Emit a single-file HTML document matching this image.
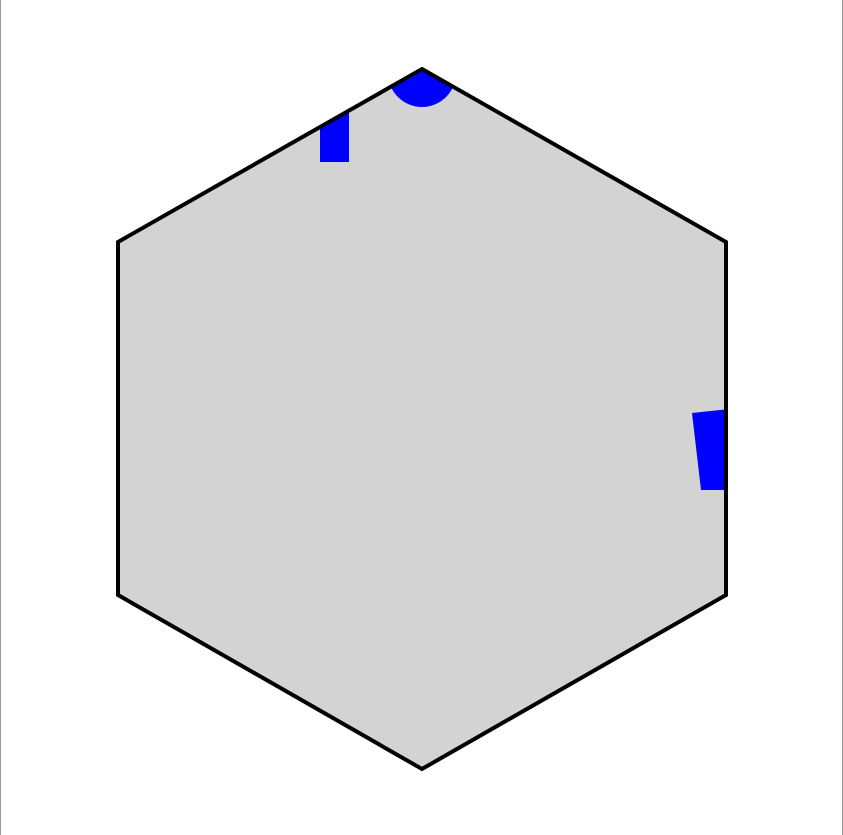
<!DOCTYPE html>
<html><head><meta charset="utf-8"><style>
html,body{margin:0;padding:0;background:#fff;}
svg{display:block;}
</style></head><body>
<svg width="843" height="835" viewBox="0 0 843 835">
<defs><clipPath id="hc"><polygon points="422,69 726,242 726,595 422,769 118,595 118,242"/></clipPath></defs>
<line x1="0.5" y1="0" x2="0.5" y2="835" stroke="#999"/>
<line x1="842.5" y1="0" x2="842.5" y2="835" stroke="#999"/>
<polygon points="422,69 726,242 726,595 422,769 118,595 118,242" fill="#d3d3d3"/>
<g clip-path="url(#hc)">
<circle cx="422" cy="73" r="34" fill="#0000ff"/>
<rect x="320" y="100" width="29" height="62" fill="#0000ff"/>
<polygon points="692,413 730,409 730,490 701,490" fill="#0000ff"/>
</g>
<polygon points="422,69 726,242 726,595 422,769 118,595 118,242" fill="none" stroke="#000" stroke-width="4" stroke-linejoin="miter"/>
</svg>
</body></html>
